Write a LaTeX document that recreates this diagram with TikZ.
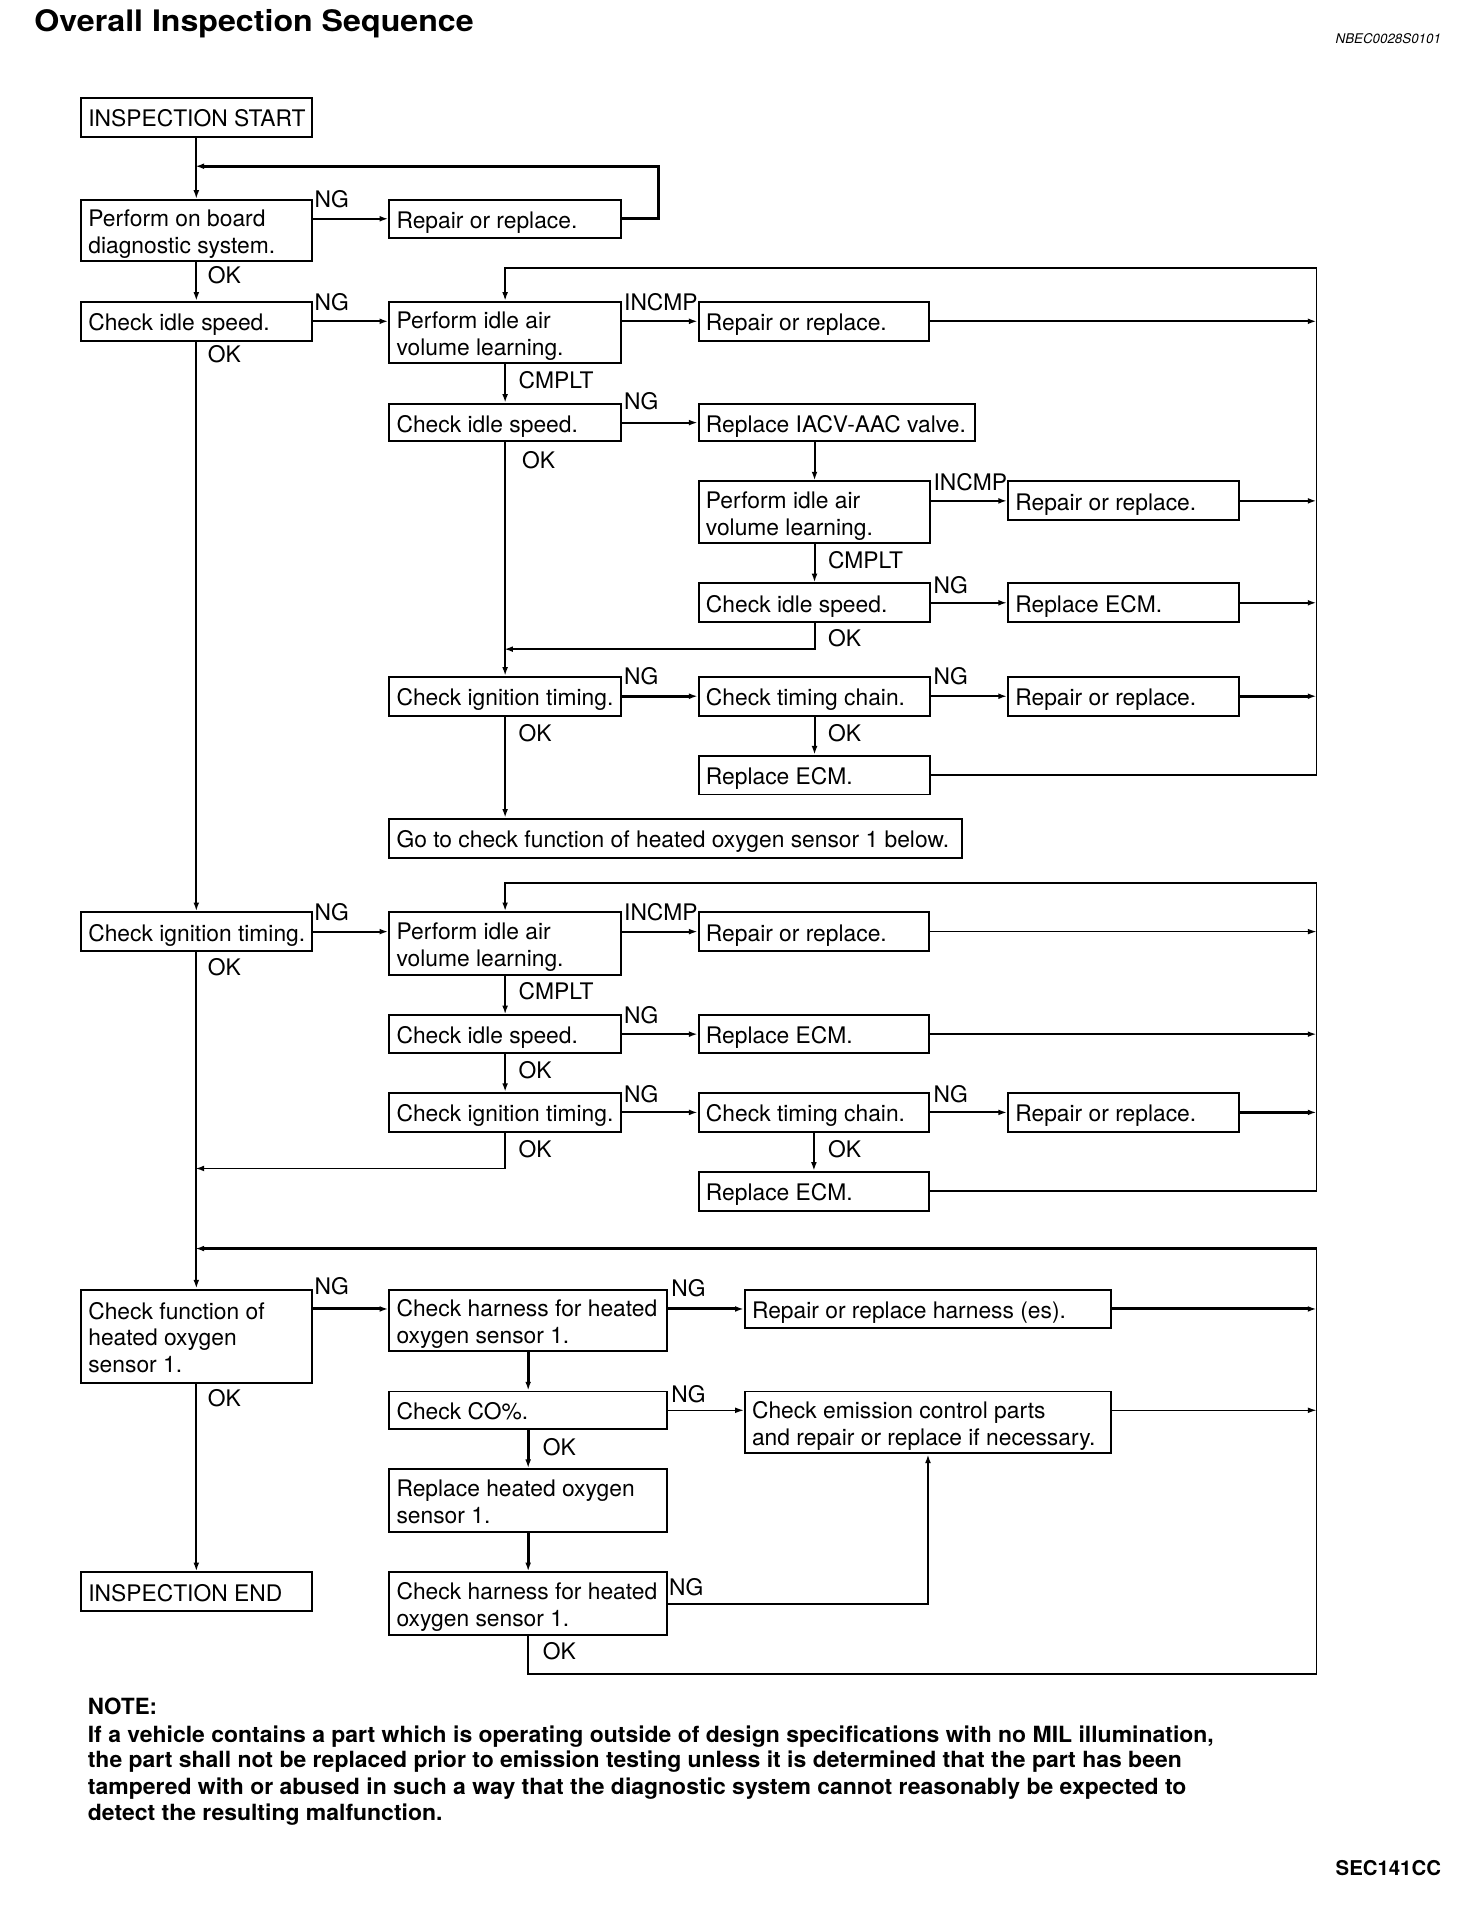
\documentclass[tikz,border=0pt]{standalone}
\usepackage{fontspec}
\usepackage{graphicx}
\setmainfont{TeX Gyre Heros}
\usetikzlibrary{arrows.meta}
\tikzset{
  box/.style={draw, line width=0.8pt, inner xsep=3pt, inner ysep=0pt, anchor=north west, font=\fontsize{9.4}{11}\selectfont},
  lbl/.style={inner sep=0pt, anchor=west, font=\fontsize{9.4}{11}\selectfont},
  conn/.style={line width=0.8pt},
  thk/.style={line width=1.25pt},
  thn/.style={line width=0.5pt},
  arr/.style={-{Latex[length=3.6pt,width=2.4pt]}},
  notel/.style={inner sep=0pt, anchor=base west},
}
\newcommand\mybox[6]{%
  \pgfmathsetmacro\bxw{(#4-#2)*0.5}%
  \pgfmathsetmacro\bxt{(#4-#2)*0.5-6}%
  \pgfmathsetmacro\bxh{(#5-#3)*0.5}%
  \node[box,minimum width=\bxw pt,minimum height=\bxh pt] (#1) at (#2,#3)
    {\makebox[\bxt pt][l]{\raisebox{-1.7pt}[\height][\depth]{\begin{tabular}{@{}l@{}}#6\end{tabular}}}};}
\newcommand\mylbl[4]{\node[lbl] (#1) at (#2,#3) {#4};}
\newlength\tlen
\newlength\nlen
\newcommand\titlefont{\fontsize{12.2}{14}\selectfont\bfseries}
\newcommand\notefont{\fontsize{9.2}{11}\selectfont\bfseries}
\begin{document}
\settowidth\tlen{\titlefont Overall Inspection Sequence}%
\settowidth\nlen{\notefont If a vehicle contains a part which is operating outside of design specifications with no MIL illumination,}%
\pgfmathsetmacro\tsx{181/\tlen}%
\pgfmathsetmacro\nsx{464/\nlen}%
\begin{tikzpicture}[x=0.5pt,y=-0.5pt]
\useasboundingbox (0,0) rectangle (1200,1572.5);
\node[notel] (title) at (28,26) {\scalebox{\tsx}[1]{\titlefont Overall Inspection Sequence}};
\node[inner sep=0pt, anchor=base east] (code) at (1188,36) {\fontsize{5.5}{6}\selectfont\itshape NBEC0028S0101};
\node[inner sep=0pt, anchor=base east] (sec) at (1188,1546) {\fontsize{8.4}{10}\selectfont\bfseries SEC141CC};

% boxes
\mybox{start}{66}{80}{256}{112}{INSPECTION START}
\mybox{pobd}{66}{164}{256}{214}{Perform on board\\diagnostic system.}
\mybox{rpa}{320}{164}{511}{195}{Repair or replace.}
\mybox{cisa}{66}{248}{256}{280}{Check idle speed.}
\mybox{piaa}{320}{248}{511}{298}{Perform idle air\\volume learning.}
\mybox{rpb}{575}{248}{765}{280}{Repair or replace.}
\mybox{cisb}{320}{332}{511}{363}{Check idle speed.}
\mybox{iacv}{575}{332}{803}{363}{Replace IACV-AAC valve.}
\mybox{piab}{575}{396}{766}{447}{Perform idle air\\volume learning.}
\mybox{rpc}{830}{396}{1020}{428}{Repair or replace.}
\mybox{cisc}{575}{480}{766}{512}{Check idle speed.}
\mybox{ecma}{830}{480}{1020}{512}{Replace ECM.}
\mybox{cita}{320}{557}{511}{589}{Check ignition timing.}
\mybox{tca}{575}{557}{766}{589}{Check timing chain.}
\mybox{rpd}{830}{557}{1020}{589}{Repair or replace.}
\mybox{ecmb}{575}{622}{766}{654}{Replace ECM.}
\mybox{goto}{320}{674}{792}{706}{Go to check function of heated oxygen sensor 1 below.}
\mybox{citb}{66}{751}{256}{783}{Check ignition timing.}
\mybox{piac}{320}{751}{511}{803}{Perform idle air\\volume learning.}
\mybox{rpe}{575}{751}{765}{783}{Repair or replace.}
\mybox{cisd}{320}{836}{511}{867}{Check idle speed.}
\mybox{ecmc}{575}{836}{765}{867}{Replace ECM.}
\mybox{citc}{320}{900}{511}{932}{Check ignition timing.}
\mybox{tcb}{575}{900}{765}{932}{Check timing chain.}
\mybox{rpf}{830}{900}{1020}{932}{Repair or replace.}
\mybox{ecmd}{575}{965}{765}{997}{Replace ECM.}
\mybox{cfo}{66}{1062}{256}{1139}{Check function of\\heated oxygen\\sensor 1.}
\mybox{chha}{320}{1062}{549}{1113}{Check harness for heated\\oxygen sensor 1.}
\mybox{rph}{613}{1062}{915}{1094}{Repair or replace harness (es).}
\mybox{co}{320}{1146}{549}{1177}{Check CO\%.}
\mybox{emis}{613}{1146}{915}{1197}{Check emission control parts\\and repair or replace if necessary.}
\mybox{rho}{320}{1210}{549}{1262}{Replace heated oxygen\\sensor 1.}
\mybox{iend}{66}{1295}{256}{1327}{INSPECTION END}
\mybox{chhb}{320}{1295}{549}{1347}{Check harness for heated\\oxygen sensor 1.}

% coordinates
\coordinate (ja) at (161,137);
\coordinate (ca) at (543,137);
\coordinate (Ra) at (1085,221);
\coordinate (jb) at (415.5,535);
\coordinate (Rb) at (1085,728);
\coordinate (jc) at (161,963);
\coordinate (Rc) at (1085,1029);
\coordinate (jd) at (161,1029);
\coordinate (Rd) at (1085,1380);

% main column
\draw[conn,arr] (start) -- (pobd);
\draw[conn,arr] (pobd) -- (cisa);
\draw[conn,arr] (cisa) -- (citb);
\draw[conn,arr] (citb) -- (cfo);
\draw[conn,arr] (cfo) -- (iend);

% section 1
\draw[conn,arr] (rpa.west -| pobd.east) -- (rpa.west);
\draw[thk,arr] (rpa.east) -| (ca) -- (ja);
\draw[conn,arr] (cisa.east) -- (cisa.east -| piaa.west);
\draw[conn,arr] (rpb.west -| piaa.east) -- (rpb.west);
\draw[conn,arr] (rpb.east) -- (rpb.east -| Ra);
\draw[conn,arr] (piaa) -- (cisb);
\draw[conn,arr] (cisb.east) -- (cisb.east -| iacv.west);
\draw[conn,arr] (iacv.south -| piab.north) -- (piab.north);
\draw[conn,arr] (rpc.west -| piab.east) -- (rpc.west);
\draw[conn,arr] (rpc.east) -- (rpc.east -| Ra);
\draw[conn,arr] (piab) -- (cisc);
\draw[conn,arr] (cisc.east) -- (cisc.east -| ecma.west);
\draw[conn,arr] (ecma.east) -- (ecma.east -| Ra);
\draw[conn,arr] (cisc.south) |- (jb);
\draw[conn,arr] (cisb) -- (cita);
\draw[thk,arr] (cita.east) -- (cita.east -| tca.west);
\draw[conn,arr] (tca.east) -- (tca.east -| rpd.west);
\draw[thk,arr] (rpd.east) -- (rpd.east -| Ra);
\draw[conn,arr] (tca) -- (ecmb);
\draw[conn,arr] (ecmb.east) -| (Ra) -| (piaa.north);
\draw[conn,arr] (cita.south) -- (cita.south |- goto.north);

% section 2
\draw[conn,arr] (citb.east) -- (citb.east -| piac.west);
\draw[conn,arr] (rpe.west -| piac.east) -- (rpe.west);
\draw[thn,arr] (rpe.east) -- (rpe.east -| Rb);
\draw[conn,arr] (piac) -- (cisd);
\draw[conn,arr] (cisd.east) -- (cisd.east -| ecmc.west);
\draw[conn,arr] (ecmc.east) -- (ecmc.east -| Rb);
\draw[conn,arr] (cisd) -- (citc);
\draw[conn,arr] (citc.east) -- (citc.east -| tcb.west);
\draw[conn,arr] (tcb.east) -- (tcb.east -| rpf.west);
\draw[thk,arr] (rpf.east) -- (rpf.east -| Rb);
\draw[conn,arr] (tcb) -- (ecmd);
\draw[conn,arr] (ecmd.east) -| (Rb) -| (piac.north);
\draw[conn,arr] (citc.south) |- (jc);

% section 3
\draw[conn] (chhb.south) |- (Rd) -- (Rc);
\draw[thk,arr] (Rc) -- (jd);
\draw[thk,arr] (cfo.east |- rph.west) -- (chha.west |- rph.west);
\draw[thk,arr] (chha.east |- rph.west) -- (rph.west);
\draw[thk,arr] (rph.east) -- (rph.east -| Rc);
\draw[thk,arr] (chha) -- (co);
\draw[thn,arr] (co.east) -- (co.east -| emis.west);
\draw[thn,arr] (co.east -| emis.east) -- (co.east -| Rc);
\draw[thk,arr] (co) -- (rho);
\draw[thk,arr] (rho) -- (chhb);
\draw[conn,arr] (chhb.east) -| (emis.south);

% labels
\mylbl{l1}{259}{164}{NG}
\mylbl{l2}{171}{227}{OK}
\mylbl{l3}{259}{249}{NG}
\mylbl{l4}{171}{292}{OK}
\mylbl{l5}{514}{249}{INCMP}
\mylbl{l6}{427}{313}{CMPLT}
\mylbl{l7}{514}{331}{NG}
\mylbl{l8}{430}{379}{OK}
\mylbl{l9}{769}{397}{INCMP}
\mylbl{l10}{682}{462}{CMPLT}
\mylbl{l11}{769}{482}{NG}
\mylbl{l12}{682}{526}{OK}
\mylbl{l13}{514}{557}{NG}
\mylbl{l14}{769}{557}{NG}
\mylbl{l15}{427}{604}{OK}
\mylbl{l16}{682}{604}{OK}
\mylbl{l17}{259}{752}{NG}
\mylbl{l18}{171}{797}{OK}
\mylbl{l19}{514}{752}{INCMP}
\mylbl{l20}{427}{817}{CMPLT}
\mylbl{l21}{514}{837}{NG}
\mylbl{l22}{427}{882}{OK}
\mylbl{l23}{514}{902}{NG}
\mylbl{l24}{769}{902}{NG}
\mylbl{l25}{427}{947}{OK}
\mylbl{l26}{682}{947}{OK}
\mylbl{l27}{259}{1060}{NG}
\mylbl{l28}{171}{1152}{OK}
\mylbl{l29}{553}{1062}{NG}
\mylbl{l30}{553}{1149}{NG}
\mylbl{l31}{447}{1193}{OK}
\mylbl{l32}{551}{1308}{NG}
\mylbl{l33}{447}{1361}{OK}

% note
\node[notel] (n0) at (72,1413) {\notefont NOTE:};
\node[notel] (n1) at (72,1436) {\scalebox{\nsx}[1]{\notefont If a vehicle contains a part which is operating outside of design specifications with no MIL illumination,}};
\node[notel] (n2) at (72,1457) {\scalebox{\nsx}[1]{\notefont the part shall not be replaced prior to emission testing unless it is determined that the part has been}};
\node[notel] (n3) at (72,1479) {\scalebox{\nsx}[1]{\notefont tampered with or abused in such a way that the diagnostic system cannot reasonably be expected to}};
\node[notel] (n4) at (72,1500) {\scalebox{\nsx}[1]{\notefont detect the resulting malfunction.}};
\end{tikzpicture}
\end{document}
